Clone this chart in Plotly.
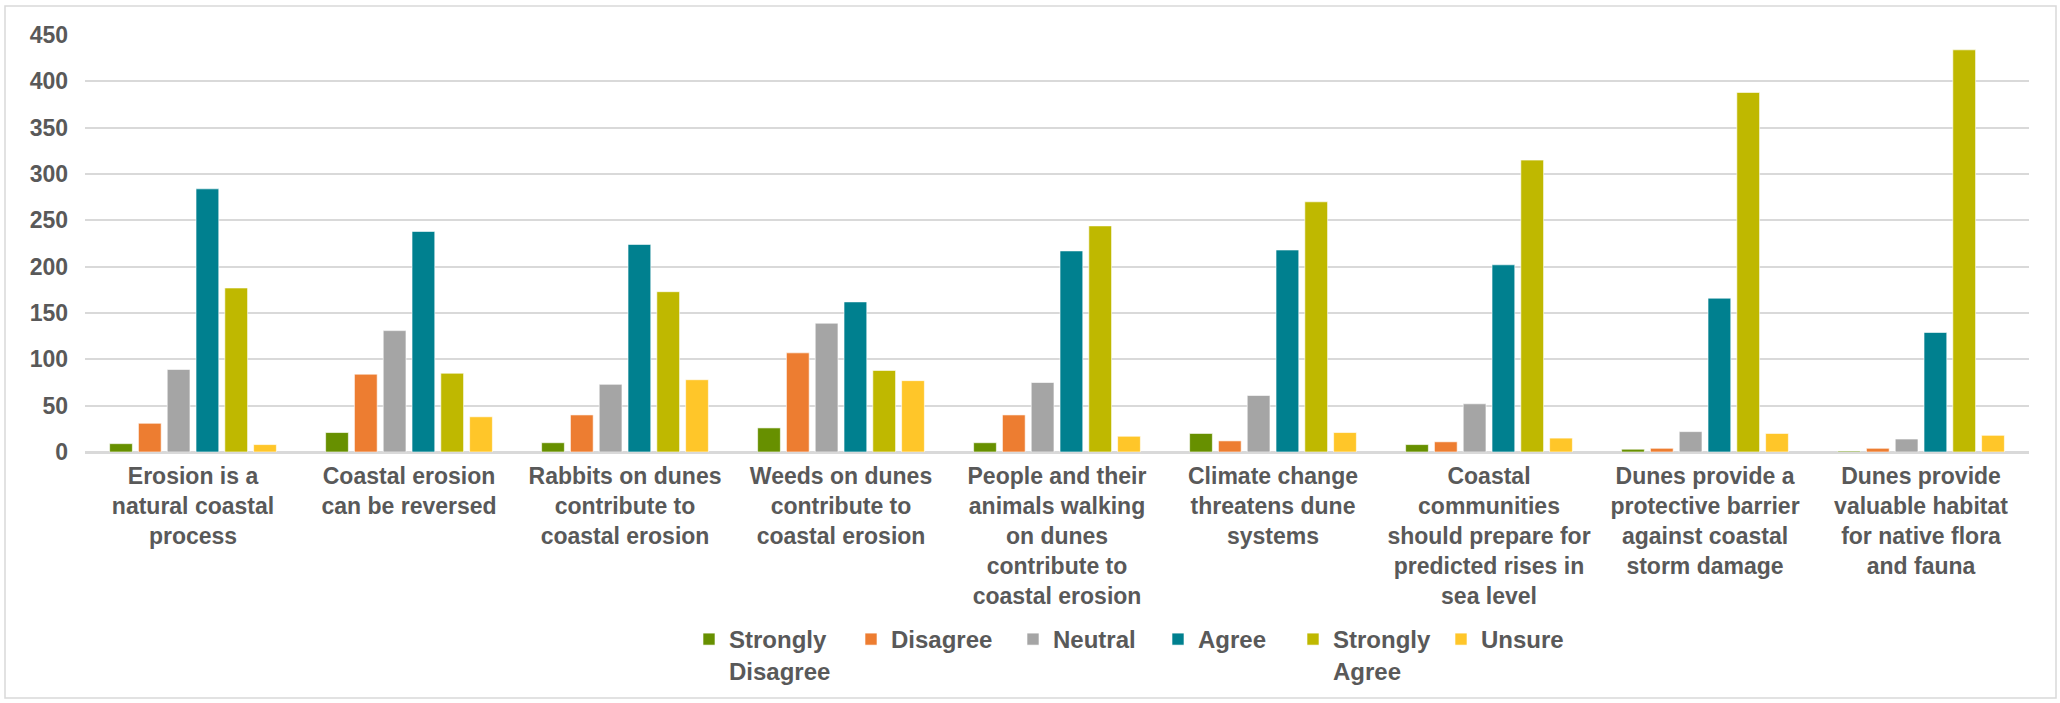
import plotly.graph_objects as go

categories = [
    "Erosion is a natural coastal process",
    "Coastal erosion can be reversed",
    "Rabbits on dunes contribute to coastal erosion",
    "Weeds on dunes contribute to coastal erosion",
    "People and their animals walking on dunes contribute to coastal erosion",
    "Climate change threatens dune systems",
    "Coastal communities should prepare for predicted rises in sea level",
    "Dunes provide a protective barrier against coastal storm damage",
    "Dunes provide valuable habitat for native flora and fauna",
]
category_labels = [
    "Erosion is a<br>natural coastal<br>process",
    "Coastal erosion<br>can be reversed",
    "Rabbits on dunes<br>contribute to<br>coastal erosion",
    "Weeds on dunes<br>contribute to<br>coastal erosion",
    "People and their<br>animals walking<br>on dunes<br>contribute to<br>coastal erosion",
    "Climate change<br>threatens dune<br>systems",
    "Coastal<br>communities<br>should prepare for<br>predicted rises in<br>sea level",
    "Dunes provide a<br>protective barrier<br>against coastal<br>storm damage",
    "Dunes provide<br>valuable habitat<br>for native flora<br>and fauna",
]

series_names = ["Strongly<br>Disagree", "Disagree", "Neutral", "Agree", "Strongly<br>Agree", "Unsure"]
strongly_disagree = [9, 21, 10, 26, 10, 20, 8, 3, 1]
disagree = [31, 84, 40, 107, 40, 12, 11, 4, 4]
neutral = [89, 131, 73, 139, 75, 61, 52, 22, 14]
agree = [284, 238, 224, 162, 217, 218, 202, 166, 129]
strongly_agree = [177, 85, 173, 88, 244, 270, 315, 388, 434]
unsure = [8, 38, 78, 77, 17, 21, 15, 20, 18]
series_values = [strongly_disagree, disagree, neutral, agree, strongly_agree, unsure]
series_colors = ["#679000", "#ED7D31", "#A5A5A5", "#00808F", "#BFB800", "#FFC629"]
y_ticks = [0, 50, 100, 150, 200, 250, 300, 350, 400, 450]

TEXT = "#595959"
FONT = "Liberation Sans, Arial, sans-serif"

W, H = 2060, 703
L, R, T, B = 85, 31, 35, 251
pw, ph = W - L - R, H - T - B

def px_x(v):
    return (v - L) / pw

def px_y(v):
    return (H - B - v) / ph

# left edge (px) of each legend entry's colour square in the layout
legend_square_px = [711, 873, 1035, 1180, 1315, 1463]

fig = go.Figure()
legend_layouts = {}
for i, (name, vals, col) in enumerate(zip(series_names, series_values, series_colors)):
    lg = "legend" if i == 0 else f"legend{i + 1}"
    fig.add_trace(go.Bar(
        x=categories, y=vals, name=name, legend=lg,
        marker=dict(color=col, line=dict(color="rgba(255,255,255,0.6)", width=1)),
    ))
    legend_layouts[lg] = dict(
        orientation="h", x=px_x(legend_square_px[i] - 22), xanchor="left",
        y=px_y(617), yanchor="top",
        font=dict(family=FONT, color=TEXT, size=24, weight="bold"),
        valign="top", itemwidth=30, bgcolor="rgba(0,0,0,0)",
    )

fig.update_layout(
    width=W, height=H,
    margin=dict(l=L, r=R, t=T, b=B, autoexpand=False),
    paper_bgcolor="white", plot_bgcolor="white",
    barmode="group", bargap=0.2, bargroupgap=0.21,
    font=dict(family=FONT, color=TEXT, size=23, weight="bold"),
    showlegend=True,
    xaxis=dict(
        tickmode="array", tickvals=categories, ticktext=category_labels,
        showline=True, linecolor="#D9D9D9", linewidth=1.5,
        showgrid=False, ticks="", ticklabelstandoff=3,
        tickfont=dict(family=FONT, color=TEXT, size=23, weight="bold"),
    ),
    yaxis=dict(
        range=[0, 450], tickvals=y_ticks, showgrid=True,
        gridcolor="#D9D9D9", gridwidth=1.5,
        zeroline=True, zerolinecolor="#D9D9D9", zerolinewidth=1.5,
        showline=False, ticks="", ticklabelstandoff=16,
        tickfont=dict(family=FONT, color=TEXT, size=23, weight="bold"),
    ),
    shapes=[dict(
        type="rect", xref="paper", yref="paper",
        x0=px_x(5), x1=px_x(2056), y0=px_y(698), y1=px_y(6),
        line=dict(color="#D9D9D9", width=1.5), fillcolor="rgba(0,0,0,0)",
        layer="below",
    )],
    **legend_layouts,
)

fig.write_html(
    "out.html",
    config={"displayModeBar": False},
    post_script="document.body.style.margin='0px';",
)
